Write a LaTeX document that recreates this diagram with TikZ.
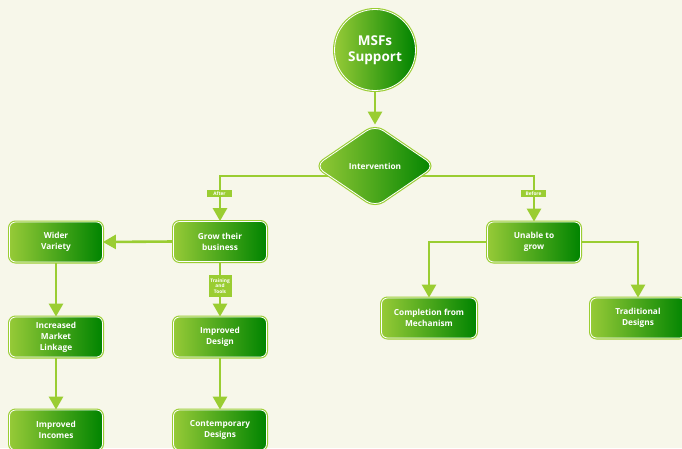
\documentclass[tikz,border=0pt]{standalone}
\usepackage{fontspec}
\setmainfont{Open Sans}
\usetikzlibrary{shapes.geometric,arrows.meta,backgrounds,calc}
\definecolor{bg}{RGB}{247,247,234}
\definecolor{lg}{RGB}{154,205,50}
\definecolor{gl}{RGB}{150,202,55}
\definecolor{gd}{RGB}{0,132,0}
\tikzset{
  gnode/.style={preaction={draw=lg,line width=3pt}, left color=gl, right color=gd,
    draw=white, line width=0.8pt, text=white, align=center,
    font=\bfseries\fontsize{8.3}{11}\selectfont},
  box/.style={gnode, rectangle, rounded corners=6pt, minimum width=93pt,
    minimum height=40pt, inner sep=0pt},
  tag/.style={fill=lg, text=white, inner sep=0.5pt, align=center,
    font=\bfseries\fontsize{4.8}{5.8}\selectfont},
  conn/.style={draw=lg, line width=2.6pt},
  arr/.style={conn, -{Triangle[width=14pt,length=13pt]}},
}
\begin{document}
\begin{tikzpicture}[x=1pt,y=-1pt]
\useasboundingbox (0,0) rectangle (682,448);
\node[gnode, circle, minimum size=81pt, inner sep=0pt,
  font=\bfseries\fontsize{13.5}{16}\selectfont] (msf) at (375,50) {MSFs\\Support};
\node[gnode, diamond, aspect=1.47, minimum width=120pt, minimum height=82pt,
  inner sep=0pt, rounded corners=10pt, font=\bfseries\fontsize{8.3}{10}\selectfont]
  (int) at (375,166) {Intervention};
\node[box] (grow) at (220,241.5) {Grow their\\business};
\node[box] (unable) at (534,242) {Unable to\\grow};
\node[box, minimum width=95pt] (comp) at (429,318) {Completion from\\Mechanism};
\node[box, minimum width=95pt] (trad) at (638,318) {Traditional\\Designs};
\node[box] (wider) at (56,242) {Wider\\Variety};
\node[box] (incr) at (56,337) {Increased\\Market\\Linkage};
\node[box] (inc) at (56,430) {Improved\\Incomes};
\node[box] (impd) at (220,337) {Improved\\Design};
\node[box] (cont) at (220,430) {Contemporary\\Designs};
\node[tag, minimum width=25pt, minimum height=7pt] (after) at (219.5,193.5) {After};
\node[tag, minimum width=25pt, minimum height=7pt] (before) at (533.5,193.5) {Before};
\node[tag, minimum width=23pt, minimum height=22pt] (train) at (220,286) {Training\\and\\Tools};
\begin{pgfonlayer}{background}
  \fill[bg] (0,0) rectangle (682,448);
  \draw[arr] (msf.south) -- (int.north);
  \draw[arr] ($(int.center)+(0,10)$) -| (grow.north);
  \draw[arr] ($(int.center)+(0,10)$) -| (unable.north);
  \draw[arr] (grow.west) -- (wider.east);
  \draw[arr] (wider.south) -- (incr.north);
  \draw[arr] (incr.south) -- (inc.north);
  \draw[arr] (grow.south) -- (impd.north);
  \draw[arr] (impd.south) -- (cont.north);
  \draw[arr] (unable.west) -| (comp.north);
  \draw[arr] (unable.east) -| (trad.north);
\end{pgfonlayer}
\end{tikzpicture}
\end{document}
